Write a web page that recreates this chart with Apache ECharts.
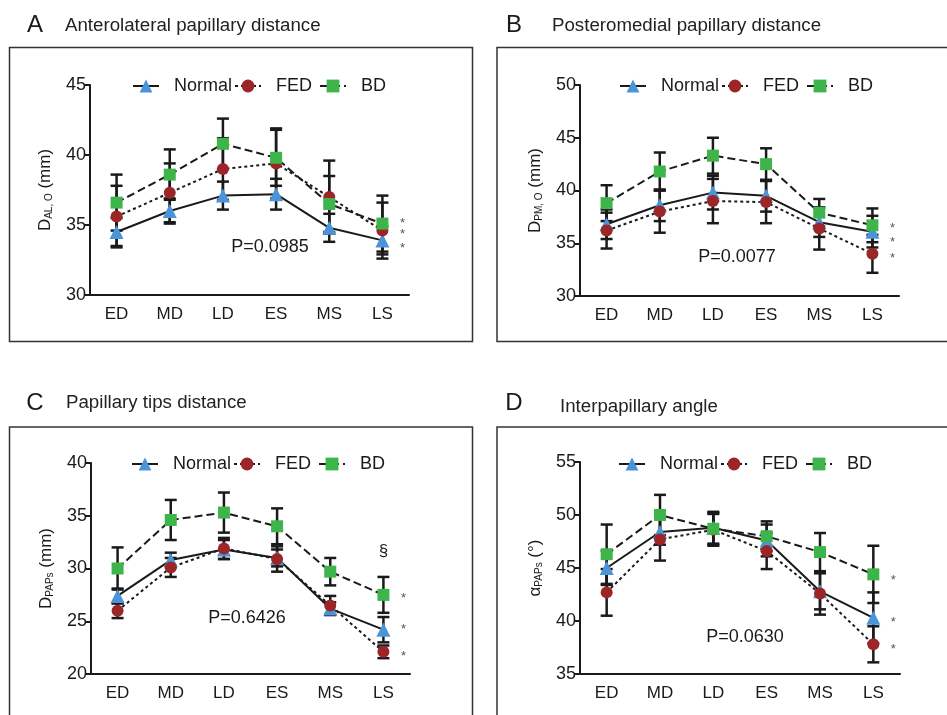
<!DOCTYPE html>
<html lang="en">
<head>
<meta charset="UTF-8">
<title>Papillary muscle geometry</title>
<script src="https://cdn.jsdelivr.net/npm/echarts@6.0.0/dist/echarts.min.js"></script>
<style>
  html, body { margin: 0; padding: 0; background: #fff; }
  #chart { width: 947px; height: 715px; }
</style>
</head>
<body>
<div id="chart"></div>
<script>
var phases = ['ED', 'MD', 'LD', 'ES', 'MS', 'LS'];
var groupNames = ['Normal', 'FED', 'BD'];

// A - anterolateral papillary distance (mm), mean and SD
var normalA = [34.5, 36.0, 37.1, 37.2, 34.8, 33.9];
var normalA_sd = [1.0, 0.9, 1.0, 1.1, 1.0, 1.0];
var fedA = [35.6, 37.3, 39.0, 39.4, 37.0, 34.6];
var fedA_sd = [2.2, 2.1, 2.2, 2.5, 2.6, 2.0];
var bdA = [36.6, 38.6, 40.8, 39.8, 36.5, 35.1];
var bdA_sd = [2.0, 1.8, 1.8, 2.0, 2.0, 2.0];

// B - posteromedial papillary distance (mm)
var normalB = [36.8, 38.6, 39.8, 39.5, 37.0, 36.1];
var normalB_sd = [1.4, 1.5, 1.6, 1.5, 1.4, 1.5];
var fedB = [36.2, 38.0, 39.0, 38.9, 36.4, 34.0];
var fedB_sd = [1.7, 2.0, 2.1, 2.0, 2.0, 1.8];
var bdB = [38.8, 41.8, 43.3, 42.5, 37.9, 36.7];
var bdB_sd = [1.7, 1.8, 1.7, 1.5, 1.3, 1.6];

// C - papillary tips distance (mm)
var normalC = [27.4, 30.8, 31.8, 31.0, 26.2, 24.2];
var normalC_sd = [0.7, 0.7, 0.9, 0.8, 0.6, 1.2];
var fedC = [26.0, 30.1, 31.9, 30.9, 26.5, 22.1];
var fedC_sd = [0.7, 0.9, 1.0, 1.2, 0.9, 0.6];
var bdC = [30.0, 34.6, 35.3, 34.0, 29.7, 27.5];
var bdC_sd = [2.0, 1.9, 1.9, 1.7, 1.3, 1.7];

// D - interpapillary angle (deg)
var normalD = [45.0, 48.4, 48.8, 47.6, 42.8, 40.3];
var normalD_sd = [1.6, 1.2, 1.5, 1.5, 1.7, 2.4];
var fedD = [42.7, 47.7, 48.6, 46.6, 42.6, 37.8];
var fedD_sd = [2.2, 2.0, 1.5, 1.7, 2.0, 1.7];
var bdD = [46.3, 50.0, 48.7, 48.0, 46.5, 44.4];
var bdD_sd = [2.8, 1.9, 1.5, 1.4, 1.8, 2.7];

var yMin = [30, 30, 20, 35];
var yMax = [45, 50, 40, 55];
var pValues = ['P=0.0985', 'P=0.0077', 'P=0.6426', 'P=0.0630'];

// significance marks next to LS (value positions)
var starsA = [35.4, 34.6, 33.6];
var starsB = [36.8, 35.5, 33.9];
var starsC = [27.5, 24.6, 22.0];
var starsD = [44.2, 40.2, 37.7];
var sectionC = 31.6;

var panelTitles = ['Anterolateral papillary distance', 'Posteromedial papillary distance',
                   'Papillary tips distance', 'Interpapillary angle'];
var panelLetters = ['A', 'B', 'C', 'D'];
var yNames = [
  '{m|D}{s|AL, O}{m| (mm)}',
  '{m|D}{s|PM, O}{m| (mm)}',
  '{m|D}{s|PAPs}{m| (mm)}',
  '{m|α}{s|PAPs}{m| (°)}'
];

var font = 'Liberation Sans, Arial, Helvetica, sans-serif';
var ink = '#1a1a1a';
var colors = { Normal: '#4b94d8', FED: '#9b2527', BD: '#3db54a' };
var symbols = { Normal: 'triangle', FED: 'circle', BD: 'rect' };
var symbolSizes = { Normal: 14, FED: 12, BD: 12 };
var lineTypes = { Normal: 'solid', FED: [3, 3], BD: [8, 4] };

var panels = [
  { means: [normalA, fedA, bdA], sds: [normalA_sd, fedA_sd, bdA_sd], stars: starsA },
  { means: [normalB, fedB, bdB], sds: [normalB_sd, fedB_sd, bdB_sd], stars: starsB },
  { means: [normalC, fedC, bdC], sds: [normalC_sd, fedC_sd, bdC_sd], stars: starsC },
  { means: [normalD, fedD, bdD], sds: [normalD_sd, fedD_sd, bdD_sd], stars: starsD }
];

// layout
var grids = [
  { left: 90, top: 85, width: 319, height: 210 },
  { left: 580, top: 85, width: 319, height: 211 },
  { left: 91, top: 463, width: 319, height: 211 },
  { left: 580, top: 462, width: 320, height: 212 }
];
var legendPos = [[127, 72], [614, 72], [126, 450], [613, 450]];
var pPos = [[270, 247], [737, 257], [247, 618], [745, 637]];
var boxes = [[9.5, 47.5], [497, 47.5], [9.5, 427], [497, 427]];
var letterPos = [[35, 25], [514, 25], [35, 403], [514, 403]];
var titlePos = [[65, 26], [552, 26], [66, 403], [560, 407]];

function errorBars(params, api) {
  var x = api.value(0);
  var top = api.coord([x, api.value(2)]);
  var bot = api.coord([x, api.value(1)]);
  var w = 6;
  var st = { stroke: ink, lineWidth: 2.5 };
  return {
    type: 'group',
    children: [
      { type: 'line', shape: { x1: top[0], y1: top[1], x2: bot[0], y2: bot[1] }, style: st },
      { type: 'line', shape: { x1: top[0] - w, y1: top[1], x2: top[0] + w, y2: top[1] }, style: st },
      { type: 'line', shape: { x1: bot[0] - w, y1: bot[1], x2: bot[0] + w, y2: bot[1] }, style: st }
    ]
  };
}

function markText(params, api) {
  var pt = api.coord([api.value(0), api.value(1)]);
  var txt = api.value(2);
  var isStar = txt === '*';
  return {
    type: 'text',
    x: pt[0] + (isStar ? 20 : 0),
    y: pt[1] + (isStar ? 4 : 0),
    style: {
      text: txt, fill: isStar ? '#555' : ink,
      font: (isStar ? 13 : 17) + 'px ' + font,
      align: 'center', verticalAlign: 'middle'
    }
  };
}

var option = {
  animation: false,
  backgroundColor: '#fff',
  textStyle: { fontFamily: font },
  grid: [], xAxis: [], yAxis: [], legend: [], series: [], graphic: []
};

panels.forEach(function (p, i) {
  var g = grids[i];
  option.grid.push({ left: g.left, top: g.top, width: g.width, height: g.height, outerBoundsMode: 'none', containLabel: false });
  option.xAxis.push({
    type: 'category', gridIndex: i, data: phases, boundaryGap: true,
    axisLine: { lineStyle: { color: ink, width: 2 } },
    axisTick: { alignWithLabel: true, length: 6, lineStyle: { color: ink, width: 2 } },
    axisLabel: { color: ink, fontSize: 17, fontFamily: font, margin: 11 },
    splitLine: { show: false }
  });
  option.yAxis.push({
    type: 'value', gridIndex: i, min: yMin[i], max: yMax[i], interval: 5,
    name: yNames[i], nameLocation: 'middle', nameRotate: 90, nameGap: 36,
    nameTextStyle: {
      color: ink,
      rich: {
        m: { fontSize: 17, fontFamily: font, color: ink },
        s: { fontSize: 10, fontFamily: font, color: ink, verticalAlign: 'bottom', padding: [6, 0, 0, 0] }
      }
    },
    axisLine: { show: true, lineStyle: { color: ink, width: 2 } },
    axisTick: { show: true, length: 6, lineStyle: { color: ink, width: 2 } },
    axisLabel: { color: ink, fontSize: 18, fontFamily: font, margin: 4 },
    splitLine: { show: false }
  });
  option.legend.push({
    left: legendPos[i][0], top: legendPos[i][1], orient: 'horizontal',
    data: groupNames, itemWidth: 26, itemHeight: 16, itemGap: 2,
    formatter: function (name) { return name === 'FED' ? name + ' ' : name; },
    textStyle: { color: ink, fontSize: 18, fontFamily: font, padding: [0, 0, 0, 10] },
    selectedMode: false
  });

  // error bars first (no name, so the legend picks the line series)
  groupNames.forEach(function (name, k) {
    option.series.push({
      type: 'custom', xAxisIndex: i, yAxisIndex: i, z: 2,
      renderItem: errorBars,
      data: p.means[k].map(function (m, j) { return [j, +(m - p.sds[k][j]).toFixed(2), +(m + p.sds[k][j]).toFixed(2)]; })
    });
  });
  groupNames.forEach(function (name, k) {
    option.series.push({
      type: 'line', name: name, xAxisIndex: i, yAxisIndex: i, z: 3,
      data: p.means[k],
      symbol: symbols[name], symbolSize: symbolSizes[name],
      itemStyle: { color: colors[name], borderWidth: 0 },
      lineStyle: { color: ink, width: 2, type: lineTypes[name] },
      emphasis: { disabled: true }
    });
  });

  var marks = p.stars.map(function (v) { return [5, v, '*']; });
  if (i === 2) marks.push([5, sectionC, '§']);
  option.series.push({
    type: 'custom', xAxisIndex: i, yAxisIndex: i, z: 4,
    renderItem: markText, data: marks
  });

  option.graphic.push(
    { type: 'rect', shape: { x: boxes[i][0], y: boxes[i][1], width: 463, height: 294 + (i > 1 ? 20 : 0) },
      style: { fill: 'none', stroke: '#333', lineWidth: 1.5 }, z: 0 },
    { type: 'text', x: letterPos[i][0], y: letterPos[i][1],
      style: { text: panelLetters[i], font: '24px ' + font, fill: ink, align: 'center', verticalAlign: 'middle' } },
    { type: 'text', x: titlePos[i][0], y: titlePos[i][1],
      style: { text: panelTitles[i], font: '18.7px ' + font, fill: '#222', align: 'left', verticalAlign: 'middle' } },
    { type: 'text', x: pPos[i][0], y: pPos[i][1],
      style: { text: pValues[i], font: '18px ' + font, fill: ink, align: 'center', verticalAlign: 'middle' } }
  );
});

var chart = echarts.init(document.getElementById('chart'));
chart.setOption(option);
</script>
</body>
</html>
